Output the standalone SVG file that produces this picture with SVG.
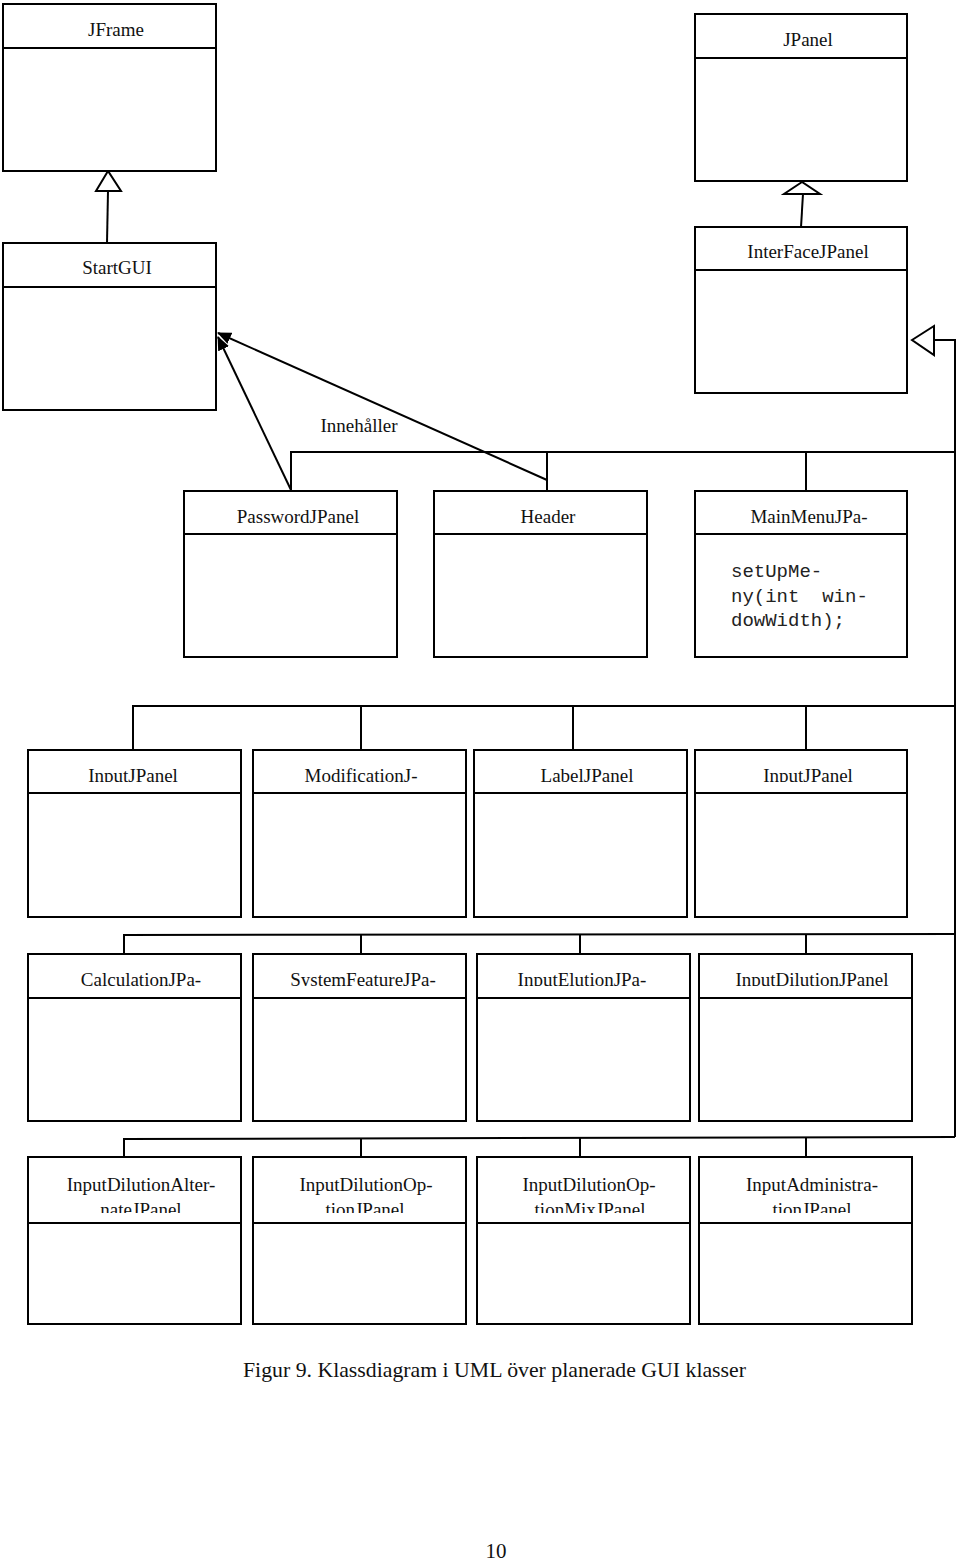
<svg xmlns="http://www.w3.org/2000/svg" width="960" height="1560" viewBox="0 0 960 1560">
<style>
.box{fill:#fff;stroke:#000;stroke-width:2}
.div{stroke:#000;stroke-width:2}
.ln{fill:none;stroke:#000;stroke-width:2}
.tri{fill:#fff;stroke:#000;stroke-width:2}
.t{font-family:"Liberation Serif","Times New Roman",serif;font-size:19px;fill:#111;text-anchor:middle}
.m{font-family:"Liberation Mono","Courier New",monospace;font-size:19px;fill:#222;white-space:pre}
.cap{font-family:"Liberation Serif","Times New Roman",serif;font-size:21px;fill:#111}
</style>
<defs>
<marker id="fa" viewBox="0 0 14 12" refX="13" refY="6" markerWidth="14" markerHeight="12" markerUnits="userSpaceOnUse" orient="auto">
<path d="M0,0 L14,6 L0,12 Z" fill="#000"/>
</marker>
<clipPath id="c3"><rect x="0" y="750" width="960" height="32"/></clipPath>
<clipPath id="c4"><rect x="0" y="954" width="960" height="32"/></clipPath>
<clipPath id="c5"><rect x="0" y="1157" width="960" height="56"/></clipPath>
</defs>
<rect width="960" height="1560" fill="#fff"/>

<g id="connectors">
<polygon class="tri" points="108,171 96,191 121,191"/>
<line class="ln" x1="108" y1="191" x2="107" y2="243"/>
<polygon class="tri" points="802,182 784,194 820,194"/>
<line class="ln" x1="803" y1="194" x2="801" y2="227"/>
<polygon class="tri" points="912,340 934,326 934,355"/>
<polyline class="ln" points="934,340 955,340 955,1137"/>
<line class="ln" x1="291" y1="490" x2="218" y2="337" marker-end="url(#fa)"/>
<line class="ln" x1="547" y1="480" x2="218" y2="333" marker-end="url(#fa)"/>
<polyline class="ln" points="291,491 291,452 955,452"/>
<line class="ln" x1="547" y1="452" x2="547" y2="491"/>
<line class="ln" x1="806" y1="452" x2="806" y2="491"/>
<polyline class="ln" points="133,750 133,706 955,706"/>
<line class="ln" x1="361" y1="706" x2="361" y2="750"/>
<line class="ln" x1="573" y1="706" x2="573" y2="750"/>
<line class="ln" x1="806" y1="706" x2="806" y2="750"/>
<polyline class="ln" points="124,954 124,935 955,934"/>
<line class="ln" x1="361" y1="935" x2="361" y2="954"/>
<line class="ln" x1="580" y1="934" x2="580" y2="954"/>
<line class="ln" x1="806" y1="934" x2="806" y2="954"/>
<polyline class="ln" points="124,1157 124,1139 955,1137"/>
<line class="ln" x1="361" y1="1138" x2="361" y2="1157"/>
<line class="ln" x1="580" y1="1138" x2="580" y2="1157"/>
<line class="ln" x1="806" y1="1137" x2="806" y2="1157"/>
<text class="t" x="359" y="432">Innehåller</text>
</g>

<g id="JFrame">
<rect class="box" x="3" y="4" width="213" height="167"/>
<line class="div" x1="3" y1="48" x2="216" y2="48"/>
<text class="t" x="116" y="36">JFrame</text>
</g>
<g id="JPanel">
<rect class="box" x="695" y="14" width="212" height="167"/>
<line class="div" x1="695" y1="58" x2="907" y2="58"/>
<text class="t" x="808" y="46">JPanel</text>
</g>
<g id="StartGUI">
<rect class="box" x="3" y="243" width="213" height="167"/>
<line class="div" x1="3" y1="287" x2="216" y2="287"/>
<text class="t" x="117" y="274">StartGUI</text>
</g>
<g id="InterFaceJPanel">
<rect class="box" x="695" y="227" width="212" height="166"/>
<line class="div" x1="695" y1="270" x2="907" y2="270"/>
<text class="t" x="808" y="258">InterFaceJPanel</text>
</g>

<g id="PasswordJPanel">
<rect class="box" x="184" y="491" width="213" height="166"/>
<line class="div" x1="184" y1="534" x2="397" y2="534"/>
<text class="t" x="298" y="523">PasswordJPanel</text>
</g>
<g id="Header">
<rect class="box" x="434" y="491" width="213" height="166"/>
<line class="div" x1="434" y1="534" x2="647" y2="534"/>
<text class="t" x="548" y="523">Header</text>
</g>
<g id="MainMenuJPanel">
<rect class="box" x="695" y="491" width="212" height="166"/>
<line class="div" x1="695" y1="534" x2="907" y2="534"/>
<text class="t" x="809" y="523">MainMenuJPa-</text>
<text class="m" x="731" y="577">setUpMe-</text>
<text class="m" x="731" y="602" xml:space="preserve">ny(int  win-</text>
<text class="m" x="731" y="626">dowWidth);</text>
</g>

<g id="InputJPanel1">
<rect class="box" x="28" y="750" width="213" height="167"/>
<line class="div" x1="28" y1="793" x2="241" y2="793"/>
<text class="t" x="133" y="782" clip-path="url(#c3)">InputJPanel</text>
</g>
<g id="ModificationJPanel">
<rect class="box" x="253" y="750" width="213" height="167"/>
<line class="div" x1="253" y1="793" x2="466" y2="793"/>
<text class="t" x="361" y="782" clip-path="url(#c3)">ModificationJ-</text>
</g>
<g id="LabelJPanel">
<rect class="box" x="474" y="750" width="213" height="167"/>
<line class="div" x1="474" y1="793" x2="687" y2="793"/>
<text class="t" x="587" y="782" clip-path="url(#c3)">LabelJPanel</text>
</g>
<g id="InputJPanel2">
<rect class="box" x="695" y="750" width="212" height="167"/>
<line class="div" x1="695" y1="793" x2="907" y2="793"/>
<text class="t" x="808" y="782" clip-path="url(#c3)">InputJPanel</text>
</g>

<g id="CalculationJPanel">
<rect class="box" x="28" y="954" width="213" height="167"/>
<line class="div" x1="28" y1="998" x2="241" y2="998"/>
<text class="t" x="141" y="986" clip-path="url(#c4)">CalculationJPa-</text>
</g>
<g id="SystemFeatureJPanel">
<rect class="box" x="253" y="954" width="213" height="167"/>
<line class="div" x1="253" y1="998" x2="466" y2="998"/>
<text class="t" x="363" y="986" clip-path="url(#c4)">SystemFeatureJPa-</text>
</g>
<g id="InputElutionJPanel">
<rect class="box" x="477" y="954" width="213" height="167"/>
<line class="div" x1="477" y1="998" x2="690" y2="998"/>
<text class="t" x="582" y="986" clip-path="url(#c4)">InputElutionJPa-</text>
</g>
<g id="InputDilutionJPanel">
<rect class="box" x="699" y="954" width="213" height="167"/>
<line class="div" x1="699" y1="998" x2="912" y2="998"/>
<text class="t" x="812" y="986" clip-path="url(#c4)">InputDilutionJPanel</text>
</g>

<g id="InputDilutionAlternateJPanel">
<rect class="box" x="28" y="1157" width="213" height="167"/>
<line class="div" x1="28" y1="1223" x2="241" y2="1223"/>
<g clip-path="url(#c5)">
<text class="t" x="141" y="1191">InputDilutionAlter-</text>
<text class="t" x="141" y="1216">nateJPanel</text>
</g>
</g>
<g id="InputDilutionOptionJPanel">
<rect class="box" x="253" y="1157" width="213" height="167"/>
<line class="div" x1="253" y1="1223" x2="466" y2="1223"/>
<g clip-path="url(#c5)">
<text class="t" x="366" y="1191">InputDilutionOp-</text>
<text class="t" x="365" y="1216">tionJPanel</text>
</g>
</g>
<g id="InputDilutionOptionMixJPanel">
<rect class="box" x="477" y="1157" width="213" height="167"/>
<line class="div" x1="477" y1="1223" x2="690" y2="1223"/>
<g clip-path="url(#c5)">
<text class="t" x="589" y="1191">InputDilutionOp-</text>
<text class="t" x="590" y="1216">tionMixJPanel</text>
</g>
</g>
<g id="InputAdministrationJPanel">
<rect class="box" x="699" y="1157" width="213" height="167"/>
<line class="div" x1="699" y1="1223" x2="912" y2="1223"/>
<g clip-path="url(#c5)">
<text class="t" x="812" y="1191">InputAdministra-</text>
<text class="t" x="812" y="1216">tionJPanel</text>
</g>
</g>

<text class="cap" x="243" y="1377" textLength="503" lengthAdjust="spacingAndGlyphs">Figur 9. Klassdiagram i UML över planerade GUI klasser</text>
<text class="cap" x="496" y="1558" text-anchor="middle">10</text>
</svg>
